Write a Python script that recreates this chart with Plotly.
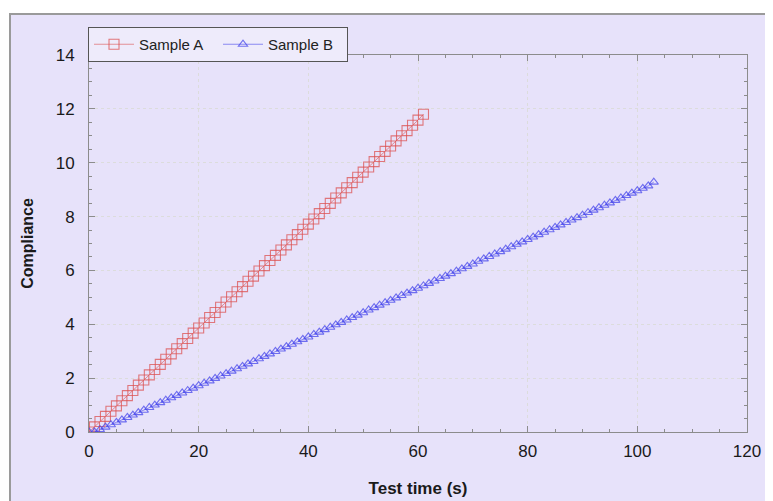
import plotly.graph_objects as go

time_a = [0, 1, 2, 3, 4, 5, 6, 7, 8, 9, 10, 11, 12, 13, 14, 15, 16, 17, 18, 19,
          20, 21, 22, 23, 24, 25, 26, 27, 28, 29, 30, 31, 32, 33, 34, 35, 36, 37, 38, 39,
          40, 41, 42, 43, 44, 45, 46, 47, 48, 49, 50, 51, 52, 53, 54, 55, 56, 57, 58, 59,
          60, 61]
comp_a = [0, 0.19, 0.39, 0.58, 0.77, 0.97, 1.16, 1.35, 1.54, 1.74, 1.93, 2.12, 2.32, 2.51,
          2.70, 2.90, 3.09, 3.28, 3.47, 3.67, 3.86, 4.05, 4.25, 4.44, 4.63, 4.83, 5.02, 5.21,
          5.40, 5.60, 5.79, 5.98, 6.18, 6.37, 6.56, 6.76, 6.95, 7.14, 7.33, 7.53, 7.72, 7.91,
          8.11, 8.30, 8.49, 8.69, 8.88, 9.07, 9.26, 9.46, 9.65, 9.84, 10.04, 10.23, 10.42,
          10.62, 10.81, 11.00, 11.19, 11.39, 11.58, 11.80]

time_b = [0, 1, 2, 3, 4, 5, 6, 7, 8, 9, 10, 11, 12, 13, 14, 15, 16, 17, 18, 19,
          20, 21, 22, 23, 24, 25, 26, 27, 28, 29, 30, 31, 32, 33, 34, 35, 36, 37, 38, 39,
          40, 41, 42, 43, 44, 45, 46, 47, 48, 49, 50, 51, 52, 53, 54, 55, 56, 57, 58, 59,
          60, 61, 62, 63, 64, 65, 66, 67, 68, 69, 70, 71, 72, 73, 74, 75, 76, 77, 78, 79,
          80, 81, 82, 83, 84, 85, 86, 87, 88, 89, 90, 91, 92, 93, 94, 95, 96, 97, 98, 99,
          100, 101, 102, 103]
comp_b = [0, 0, 0.09, 0.18, 0.27, 0.36, 0.45, 0.54, 0.63, 0.72, 0.81, 0.91, 1.00, 1.09,
          1.18, 1.27, 1.36, 1.45, 1.54, 1.63, 1.72, 1.81, 1.90, 1.99, 2.08, 2.17, 2.26,
          2.35, 2.44, 2.53, 2.62, 2.72, 2.81, 2.90, 2.99, 3.08, 3.17, 3.26, 3.35, 3.44,
          3.53, 3.62, 3.71, 3.80, 3.89, 3.98, 4.07, 4.16, 4.25, 4.34, 4.43, 4.53, 4.62,
          4.71, 4.80, 4.89, 4.98, 5.07, 5.16, 5.25, 5.34, 5.43, 5.52, 5.61, 5.70, 5.79,
          5.88, 5.97, 6.06, 6.15, 6.24, 6.34, 6.43, 6.52, 6.61, 6.70, 6.79, 6.88, 6.97,
          7.06, 7.15, 7.24, 7.33, 7.42, 7.51, 7.60, 7.69, 7.78, 7.87, 7.96, 8.05, 8.15,
          8.24, 8.33, 8.42, 8.51, 8.60, 8.69, 8.78, 8.87, 8.96, 9.05, 9.14, 9.28]

x_ticks = [0, 20, 40, 60, 80, 100, 120]
y_ticks = [0, 2, 4, 6, 8, 10, 12, 14]

FONT = "Liberation Sans, Arial, sans-serif"
RED = "rgba(220,80,80,0.75)"
BLUE = "rgba(70,70,235,0.75)"

fig = go.Figure()
fig.add_trace(go.Scatter(
    x=time_a, y=comp_a, name="Sample A", mode="lines+markers",
    line=dict(color=RED, width=0.8),
    marker=dict(symbol="square-open", size=10, color=RED, line=dict(width=1.1))))
fig.add_trace(go.Scatter(
    x=time_b, y=comp_b, name="Sample B", mode="lines+markers",
    line=dict(color=BLUE, width=0.8),
    marker=dict(symbol="triangle-up-open", size=8, color=BLUE, line=dict(width=1.1))))

# page body has an 8px margin, so figure coordinates are offset by 8px
OFF = 8
W, H = 773 - OFF, 501 - OFF
L, R, T, B = 89 - OFF, 26, 55 - OFF, 69
pw, ph = W - L - R, H - T - B

def px(xp):
    return (xp - OFF - L) / pw

def py(yp):
    return (H - B - (yp - OFF)) / ph

shapes = [
    dict(type="rect", xref="paper", yref="paper", layer="below",
         x0=px(10), x1=px(790), y0=py(520), y1=py(14),
         fillcolor="#E7E2FA", line=dict(color="#9a9a9a", width=2)),
]

axis_common = dict(
    showline=True, linecolor="#8c8c8c", linewidth=1, mirror="ticks",
    ticks="inside", ticklen=6, tickcolor="#8c8c8c", tickwidth=1,
    showgrid=True, gridcolor="#dcdcdc", griddash="dot", gridwidth=1,
    zeroline=False, automargin=False,
    tickfont=dict(family=FONT, size=17, color="#1a1a1a"),
)

fig.update_layout(
    width=W, height=H,
    margin=dict(l=L, r=R, t=T, b=B),
    paper_bgcolor="white", plot_bgcolor="white",
    shapes=shapes,
    font=dict(family=FONT, color="#222"),
    xaxis=dict(range=[0, 120], tickvals=x_ticks, ticklabelstandoff=4,
               minor=dict(dtick=5, ticks="inside", ticklen=3, tickcolor="#8c8c8c", showgrid=False),
               title=dict(text="<b>Test time (s)</b>", font=dict(family=FONT, size=17, color="#1a1a1a"), standoff=21),
               **axis_common),
    yaxis=dict(range=[0, 14], tickvals=y_ticks, ticklabelstandoff=10,
               minor=dict(dtick=0.5, ticks="inside", ticklen=3, tickcolor="#8c8c8c", showgrid=False),
               title=dict(text="<b>Compliance</b>", font=dict(family=FONT, size=16, color="#1a1a1a"), standoff=18),
               **axis_common),
    legend=dict(orientation="h", x=px(88), y=py(27), xanchor="left", yanchor="top",
                bgcolor="#EEEBFB", bordercolor="#555", borderwidth=1,
                font=dict(family=FONT, size=15, color="#222"),
                itemwidth=40, entrywidth=74, tracegroupgap=0),
    showlegend=True,
)

fig.write_html("out.html")
